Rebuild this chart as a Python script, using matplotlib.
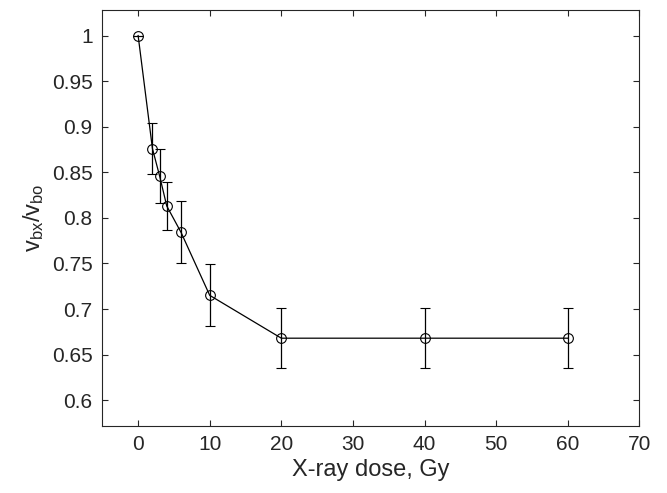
import matplotlib
matplotlib.use('Agg')
import matplotlib.pyplot as plt
import numpy as np

# Données
dose = [0, 2, 3, 4, 6, 10, 20, 40, 60]
ratio = [1.0, 0.876, 0.846, 0.813, 0.784, 0.715, 0.668, 0.668, 0.668]
erreur = [0.0, 0.028, 0.030, 0.026, 0.034, 0.034, 0.033, 0.033, 0.033]

plt.rcParams['font.family'] = ['Liberation Sans', 'DejaVu Sans']
plt.rcParams['mathtext.fontset'] = 'custom'
plt.rcParams['mathtext.rm'] = 'Liberation Sans'

gris = '#262626'

fig = plt.figure(figsize=(6.67, 4.93), dpi=100)
ax = fig.add_axes([0.1534, 0.1365, 0.8051, 0.8432])

ax.errorbar(dose, ratio, yerr=erreur, color='black', linewidth=0.9,
            elinewidth=0.9, capsize=3.5, capthick=0.9,
            marker='o', markersize=7, markerfacecolor='none',
            markeredgecolor='black', markeredgewidth=0.8)

ax.set_xlim(-5, 70)
ax.set_ylim(0.572, 1.028)
ax.set_xticks(np.arange(0, 71, 10))
ax.set_yticks([0.6, 0.65, 0.7, 0.75, 0.8, 0.85, 0.9, 0.95, 1])
ax.set_yticklabels(['0.6', '0.65', '0.7', '0.75', '0.8', '0.85', '0.9', '0.95', '1'])

ax.tick_params(direction='in', length=4, width=0.8, color=gris,
               labelcolor=gris, labelsize=15, top=True, right=True, pad=7)
for s in ax.spines.values():
    s.set_color(gris)
    s.set_linewidth(0.8)

ax.set_xlabel('X-ray dose, Gy', fontsize=17, color=gris, labelpad=3)
ax.set_ylabel(r'$\mathregular{v_{bx}/v_{bo}}$', fontsize=17, color=gris, labelpad=4)

fig.savefig('out.png', dpi=100)
